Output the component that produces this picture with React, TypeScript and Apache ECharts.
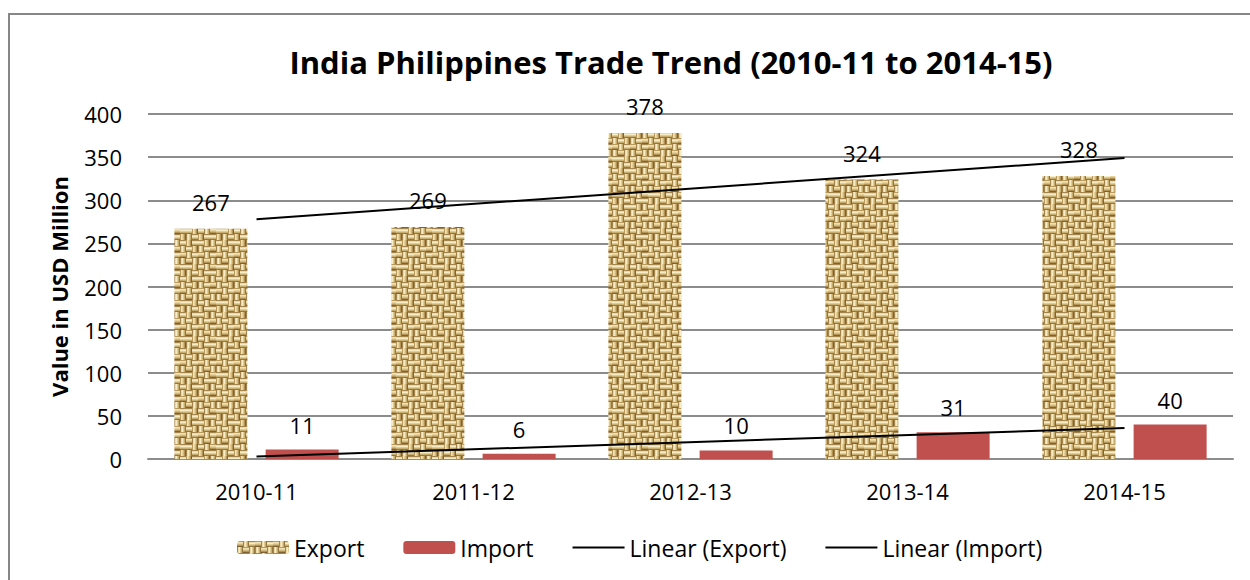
import React, { useEffect, useRef } from "react";
import * as echarts from "echarts";

const categories = ["2010-11", "2011-12", "2012-13", "2013-14", "2014-15"];
const exportValues = [267, 269, 378, 324, 328];
const importValues = [11, 6, 10, 31, 40];
// Trend line endpoints (first and last category)
const exportTrend = [278, null, null, null, 349];
const importTrend = [3, null, null, null, 36];
const yTicks = { min: 0, max: 400, interval: 50 };

const FONT = "'Open Sans', Lato, sans-serif";

function makeBurlap(): HTMLCanvasElement {
  const c = document.createElement("canvas");
  const cell = 6;
  const n = 6;
  const size = cell * n;
  c.width = size;
  c.height = size;
  const ctx = c.getContext("2d")!;
  ctx.fillStyle = "#d9c38d";
  ctx.fillRect(0, 0, size, size);
  const shadesA = ["#a3844c", "#ead9a7", "#f6ecc6", "#e0cb94", "#c9ad6e", "#94763f"];
  const shadesB = ["#b8995c", "#f0e2b4", "#e6d29d", "#d2b97f", "#b29355", "#7f6233"];
  // irregular weave layout (fixed, hand-made)
  const layout = [
    [1, 0, 1, 1, 0, 1],
    [0, 1, 0, 0, 1, 0],
    [1, 1, 0, 1, 0, 1],
    [0, 0, 1, 0, 1, 1],
    [1, 0, 1, 1, 0, 0],
    [0, 1, 0, 0, 1, 1],
  ];
  for (let cy = 0; cy < n; cy++) {
    for (let cx = 0; cx < n; cx++) {
      const x0 = cx * cell;
      const y0 = cy * cell;
      const horiz = layout[cy][cx] === 1;
      const shades = (cx + 2 * cy) % 3 === 0 ? shadesB : shadesA;
      for (let k = 0; k < cell; k++) {
        ctx.fillStyle = shades[k];
        if (horiz) ctx.fillRect(x0, y0 + k, cell, 1);
        else ctx.fillRect(x0 + k, y0, 1, cell);
      }
    }
  }
  return c;
}

export default function App() {
  const ref = useRef<HTMLDivElement>(null);
  useEffect(() => {
    if (!ref.current) return;
    const chart = echarts.init(ref.current, undefined, { renderer: "svg" });
    const burlap = makeBurlap();
    const pattern: any = { image: burlap, repeat: "repeat", imageWidth: burlap.width, imageHeight: burlap.height };
    const lineIcon = "path://M0,0H52V2H0Z";
    chart.setOption({
      animation: false,
      backgroundColor: "#ffffff",
      title: {
        text: "India Philippines Trade Trend (2010-11 to 2014-15)",
        left: 666,
        textAlign: "center",
        top: 41,
        textStyle: { fontFamily: FONT, fontSize: 31, fontWeight: "bold", color: "#000" },
      },
      graphic: [
        {
          type: "rect",
          shape: { x: 9, y: 14, width: 1260, height: 600 },
          style: { fill: "none", stroke: "#878787", lineWidth: 2 },
          silent: true,
        },
      ],
      grid: { left: 148, right: 17, top: 114, bottom: 121, containLabel: false },
      legend: {
        bottom: 16,
        left: 232,
        itemWidth: 52,
        itemHeight: 13,
        itemGap: 39,
        textStyle: { fontFamily: FONT, fontSize: 23, color: "#000" },
        data: [
          { name: "Export" },
          { name: "Import" },
          { name: "Linear (Export)", icon: lineIcon },
          { name: "Linear (Import)", icon: lineIcon },
        ],
      },
      xAxis: {
        type: "category",
        data: categories,
        axisTick: { show: false },
        axisLine: { lineStyle: { color: "#8c8c8c", width: 2 } },
        axisLabel: { fontFamily: FONT, fontSize: 22, color: "#000", margin: 21 },
      },
      yAxis: {
        type: "value",
        min: yTicks.min,
        max: yTicks.max,
        interval: yTicks.interval,
        name: "Value in USD Million",
        nameLocation: "middle",
        nameGap: 78,
        nameTextStyle: { fontFamily: FONT, fontSize: 22, fontWeight: "bold", color: "#000" },
        axisLine: { show: false },
        axisTick: { show: false },
        splitLine: { lineStyle: { color: "#8c8c8c", width: 2 } },
        axisLabel: { fontFamily: FONT, fontSize: 22, color: "#000", margin: 26 },
      },
      series: [
        {
          name: "Export",
          type: "bar",
          data: exportValues,
          barWidth: 73,
          barGap: "25%",
          itemStyle: { color: pattern },
          label: {
            show: true,
            position: "top",
            distance: 16,
            fontFamily: FONT,
            fontSize: 22,
            color: "#000",
          },
        },
        {
          name: "Import",
          type: "bar",
          data: importValues,
          barWidth: 73,
          barGap: "25%",
          itemStyle: { color: "#c0504d" },
          label: {
            show: true,
            position: "top",
            distance: 14,
            fontFamily: FONT,
            fontSize: 22,
            color: "#000",
          },
        },
        {
          name: "Linear (Export)",
          type: "line",
          data: exportTrend,
          connectNulls: true,
          symbol: "none",
          lineStyle: { color: "#000", width: 2 },
          itemStyle: { color: "#000" },
          z: 5,
        },
        {
          name: "Linear (Import)",
          type: "line",
          data: importTrend,
          connectNulls: true,
          symbol: "none",
          lineStyle: { color: "#000", width: 2 },
          itemStyle: { color: "#000" },
          z: 5,
        },
      ],
    });
    return () => chart.dispose();
  }, []);
  return (
    <div
      ref={ref}
      style={{ position: "absolute", left: 0, top: 0, width: 1250, height: 580 }}
    />
  );
}
